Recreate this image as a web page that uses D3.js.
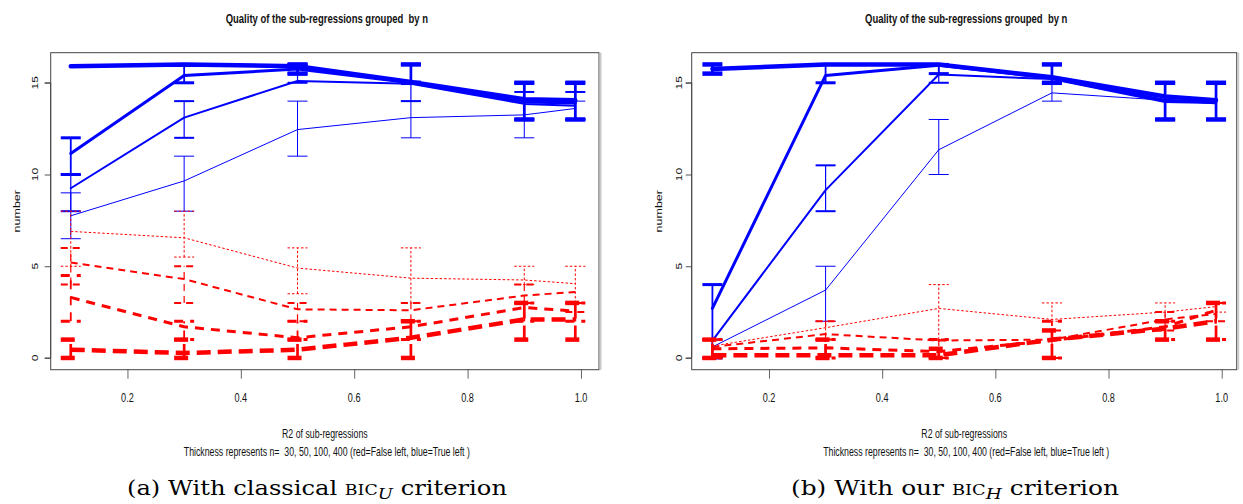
<!DOCTYPE html>
<html><head><meta charset="utf-8">
<script src="https://cdn.jsdelivr.net/npm/d3@7"></script>
<style>
body{margin:0;background:#fff}
svg{display:block}
text{font-family:"Liberation Sans",Arial,Helvetica,sans-serif;fill:#111;white-space:pre}
</style>
</head><body>
<svg id="chart" width="1243" height="504"></svg>
<script>
// ---------------- data ----------------
const xValues = [0.1, 0.3, 0.5, 0.7, 0.9, 0.99];
const sampleSizes = [30, 50, 100, 400];
const xTicks = [0.2, 0.4, 0.6, 0.8, 1.0];
const yTicks = [0, 5, 10, 15];

// panel (a): classical BIC_U  — one row per n (30, 50, 100, 400)
const aBlueMean = [
  [7.75, 9.65, 12.45, 13.1, 13.25, 13.6],
  [9.25, 13.1, 15.1, 14.95, 13.85, 13.75],
  [11.15, 15.4, 15.75, 15.0, 13.95, 13.9],
  [15.9, 16.0, 15.9, 15.05, 14.1, 14.05]
];
const aBlueLo = [
  [6.5, 8, 11, 12, 12, 13],
  [8, 12, 15, 14, 13, 13],
  [10, 15, 15.5, 15, 13, 13],
  [16, 16, 15.5, 15, 13, 13]
];
const aBlueHi = [
  [9, 11, 14, 14, 14, 14],
  [10, 14, 16, 16, 14.5, 14.5],
  [12, 16, 16, 16, 15, 15],
  [16, 16, 16, 16, 15, 15]
];
const aRedMean = [
  [6.9, 6.55, 4.9, 4.35, 4.25, 4.05],
  [5.2, 4.3, 2.65, 2.6, 3.4, 3.6],
  [3.3, 1.7, 1.1, 1.7, 2.75, 2.55],
  [0.45, 0.27, 0.45, 1.1, 2.1, 2.1]
];
const aRedLo = [
  [5, 5.5, 3.5, 3, 4, 3],
  [4, 3, 2, 2, 3, 2.5],
  [2, 1, 1, 1, 2, 2],
  [0, 0, 0, 0, 1, 1]
];
const aRedHi = [
  [8, 8, 6, 6, 5, 5],
  [6, 5, 3, 3, 4, 3],
  [4.5, 2, 2, 2, 3, 3],
  [1, 1, 1, 2, 3, 3]
];

// panel (b): our BIC_H
const bBlueMean = [
  [0.6, 3.7, 11.35, 14.45, 14.05, 13.85],
  [0.95, 9.15, 15.45, 15.2, 13.95, 13.9],
  [2.7, 15.4, 15.95, 15.25, 14.05, 13.95],
  [15.75, 16.0, 16.0, 15.3, 14.25, 14.05]
];
const bBlueLo = [
  [0, 2, 10, 14, 14, 14],
  [0, 8, 15, 15, 13, 13],
  [0, 15, 15.5, 15, 13, 13],
  [15.5, 16, 16, 15, 13, 13]
];
const bBlueHi = [
  [1, 5, 13, 15, 14, 14],
  [1, 10.5, 16, 16, 15, 15],
  [4, 16, 16, 16, 15, 15],
  [16, 16, 16, 16, 15, 15]
];
const bRedMean = [
  [0.65, 1.65, 2.7, 2.1, 2.5, 2.8],
  [0.6, 1.3, 0.95, 1.0, 2.1, 2.4],
  [0.5, 0.55, 0.35, 0.95, 1.7, 2.6],
  [0.15, 0.15, 0.15, 1.0, 1.6, 2.0]
];
const bRedLo = [
  [0, 1, 1, 2, 2, 2.5],
  [0, 1, 0, 0, 1.5, 2],
  [0, 0, 0, 0, 1, 1],
  [0, 0, 0, 0, 1, 1]
];
const bRedHi = [
  [1, 2, 4, 3, 3, 3],
  [1, 2, 1, 1.5, 2.5, 3],
  [1, 1, 1, 2, 2, 3],
  [1, 1, 0.5, 1.5, 2, 3]
];

const titleText = "Quality of the sub-regressions grouped  by n";
const yLabelText = "number";
const xLabelText = "R2 of sub-regressions";
const subLabelText = "Thickness represents n=  " + sampleSizes.join(", ") + " (red=False left, blue=True left )";

// ---------------- layout / style ----------------
const layout = [
  {left: 50.7, right: 599, top: 52.7, bottom: 369.7, xDomain: [0.0646, 1.0318],
   tickLabX: 37.5, yLabX: 19.5, capLeft: 127, capWidth: 380, capLetter: "(a)", capWord: "With classical ", capSub: "U",
   blue: [aBlueMean, aBlueLo, aBlueHi], red: [aRedMean, aRedLo, aRedHi]},
  {left: 691.7, right: 1236.7, top: 52.7, bottom: 369.7, xDomain: [0.0634, 1.0265],
   tickLabX: 682, yLabX: 661.5, capLeft: 791, capWidth: 328, capLetter: "(b)", capWord: "With our ", capSub: "H",
   blue: [bBlueMean, bBlueLo, bBlueHi], red: [bRedMean, bRedLo, bRedHi]}
];
const yDomain = [-0.64, 16.64];
const lineW = [1, 2, 3, 4.5];
const redDash = ["2.5,2", "7,5", "9,7", "14,7"];
const BLUE = "#0000ff", RED = "#ff0000";
const SX = 0.73;   // horizontal squeeze of R's text
const CAP = 10;

const svg = d3.select("#chart");

function hText(g, x, y, str, size, weight, anchor) {
  return g.append("text")
    .attr("transform", `translate(${x},${y}) scale(${SX},1)`)
    .attr("text-anchor", anchor || "middle")
    .attr("font-size", size)
    .attr("font-weight", weight || "normal")
    .text(str);
}
function vText(g, x, y, str, size) {
  return g.append("text")
    .attr("transform", `translate(${x},${y}) scale(${SX},1) rotate(-90)`)
    .attr("text-anchor", "middle")
    .attr("font-size", size)
    .text(str);
}

layout.forEach(P => {
  const g = svg.append("g");
  const x = d3.scaleLinear().domain(P.xDomain).range([P.left, P.right]);
  const y = d3.scaleLinear().domain(yDomain).range([P.bottom, P.top]);
  const cx = (P.left + P.right) / 2;

  hText(g, cx + 2, 23, titleText, 13, "bold");

  const yAx = d3.axisLeft(y).tickValues(yTicks).tickSize(6).tickFormat("");
  const ya = g.append("g").attr("transform", `translate(${P.left},0)`).call(yAx);
  ya.select(".domain").attr("stroke", "#555").attr("d", `M-6,${y(yTicks[0])}H0V${y(yTicks[yTicks.length-1])}H-6`);
  ya.selectAll(".tick line").attr("stroke", "#555");
  yTicks.forEach(t => vText(g, P.tickLabX, y(t), String(t), 12));
  vText(g, P.yLabX, (P.top + P.bottom) / 2, yLabelText, 12.5);

  const xAx = d3.axisBottom(x).tickValues(xTicks).tickSize(9).tickFormat("");
  const xa = g.append("g").attr("transform", `translate(0,${P.bottom})`).call(xAx);
  xa.select(".domain").remove();
  xa.selectAll(".tick line").attr("stroke", "#666");
  xTicks.forEach(t => hText(g, x(t), 402, d3.format(".1f")(t), 12.5));
  hText(g, cx, 438, xLabelText, 12);
  hText(g, cx + 2, 455.5, subLabelText, 12);

  g.append("rect").attr("x", P.left).attr("y", P.top)
    .attr("width", P.right - P.left).attr("height", P.bottom - P.top)
    .attr("fill", "none").attr("stroke", "#444").attr("stroke-width", 1);
  g.append("line").attr("x1", P.right + 1.5).attr("x2", P.right + 1.5)
    .attr("y1", P.top).attr("y2", P.bottom)
    .attr("stroke", "#c8c8c8").attr("stroke-width", 2);

  const line = d3.line().x((d, i) => x(xValues[i])).y(d => y(d));

  function drawGroup(set, color, dashed) {
    const [mean, lo, hi] = set;
    sampleSizes.forEach((n, k) => {
      const w = lineW[k];
      const dash = dashed ? redDash[k] : null;
      const gg = g.append("g").attr("stroke", color).attr("fill", "none");
      xValues.forEach((xv, i) => {
        if (lo[k][i] === hi[k][i]) return;
        const px = x(xv);
        gg.append("line").attr("x1", px).attr("x2", px)
          .attr("y1", y(lo[k][i])).attr("y2", y(hi[k][i]))
          .attr("stroke-width", Math.max(1, w * 0.6))
          .attr("stroke-dasharray", dash);
        [lo[k][i], hi[k][i]].forEach(v => {
          gg.append("line").attr("x1", px - CAP).attr("x2", px + CAP)
            .attr("y1", y(v)).attr("y2", y(v))
            .attr("stroke-width", w)
            .attr("stroke-dasharray", dash);
        });
      });
      gg.append("path").datum(mean[k]).attr("d", line)
        .attr("stroke-width", w)
        .attr("stroke-linejoin", "round")
        .attr("stroke-linecap", dashed ? "butt" : "round")
        .attr("stroke-dasharray", dash);
    });
  }
  drawGroup(P.blue, BLUE, false);
  drawGroup(P.red, RED, true);

  const cap = g.append("text")
    .attr("x", P.capLeft).attr("y", 494.5)
    .attr("text-anchor", "start")
    .attr("textLength", P.capWidth)
    .attr("lengthAdjust", "spacingAndGlyphs")
    .style("font-family", "'DejaVu Serif','Liberation Serif',serif")
    .style("fill", "#000")
    .attr("font-size", 19.5);
  cap.append("tspan").text(P.capLetter + " " + P.capWord);
  cap.append("tspan").attr("font-size", 14).text("BIC");
  cap.append("tspan").attr("font-size", 14.5).attr("font-style", "italic").attr("dy", 4).text(P.capSub);
  cap.append("tspan").attr("dy", -4).text(" criterion");
});
</script>
</body></html>
